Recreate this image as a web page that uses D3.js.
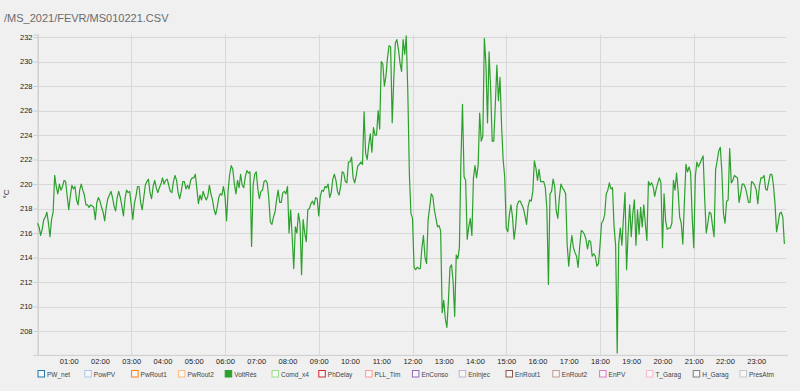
<!DOCTYPE html>
<html><head><meta charset="utf-8">
<script src="https://cdn.jsdelivr.net/npm/d3@7"></script>
<style>
html,body{margin:0;padding:0;background:#f0f0f0;}
svg{display:block;}
text{font-family:"Liberation Sans",Arial,sans-serif;}
</style></head><body>
<svg id="chart" width="800" height="391"></svg>
<script>
// ---------- data ----------
const chartTitle = "/MS_2021/FEVR/MS010221.CSV";
const yUnit = "°C";
const hourLabels = ["01:00","02:00","03:00","04:00","05:00","06:00","07:00","08:00","09:00","10:00","11:00","12:00",
                    "13:00","14:00","15:00","16:00","17:00","18:00","19:00","20:00","21:00","22:00","23:00"];
const yTickValues = [208,210,212,214,216,218,220,222,224,226,228,230,232];
const legendLabels = ["PW_net","PowPV","PwRout1","PwRout2","VoltRés","Comd_x4","PhDelay","PLL_Tim",
                      "EnConso","EnInjec","EnRout1","EnRout2","EnPV","T_Garag","H_Garag","PresAtm"];
const activeSeries = "VoltRés";
const sampleMinutes = 3; // one reading every 3 minutes from 00:00
// VoltRés readings, one row per hour (00h .. 23h)
const voltRes = [
  216.8,216.5,215.8,216.3,217.1,217.3,217.7,216.8,215.7,217.1,217.7,220.7,219.8,219.2,220.0,219.5,219.8,220.3,220.2,219.0,
  217.9,219.0,219.9,219.6,219.8,218.7,218.3,219.5,220.0,219.5,219.1,218.3,218.3,218.1,218.3,218.2,218.1,217.1,218.5,218.9,
  218.6,218.1,217.7,217.0,218.1,218.8,219.1,219.4,218.9,218.2,217.8,218.9,219.4,218.9,218.2,217.4,218.8,219.5,219.3,219.4,
  218.3,217.1,218.4,219.0,219.8,219.8,218.5,217.9,218.9,219.9,220.2,220.4,219.3,218.8,219.8,220.3,219.7,219.3,219.7,220.0,
  220.5,220.0,220.3,220.4,219.9,219.4,219.3,220.2,220.7,220.3,219.3,218.8,219.4,220.2,220.2,219.6,219.9,219.6,220.3,220.5,
  220.5,220.8,219.6,218.4,219.1,218.7,219.4,219.0,218.7,219.0,219.9,219.2,218.7,217.9,217.5,218.1,218.9,219.2,219.1,219.8,
  219.0,217.0,219.5,220.8,221.5,221.2,220.0,219.2,220.3,219.7,220.8,219.9,219.7,220.6,221.1,220.9,221.0,214.9,219.9,220.8,
  221.0,219.6,218.8,219.4,219.5,220.2,220.3,220.1,218.9,216.9,216.7,217.3,217.7,218.7,219.5,218.5,218.5,219.3,219.4,219.2,
  219.8,216.0,217.9,215.7,213.1,216.5,216.0,217.6,216.8,212.6,217.1,216.0,215.3,217.9,218.0,218.4,218.6,218.3,218.9,218.8,
  217.4,219.0,219.5,219.4,219.8,219.7,220.0,218.9,219.3,220.4,220.8,220.3,219.4,219.1,219.8,221.0,220.9,220.2,220.1,221.8,
  221.8,222.2,220.5,220.1,220.7,221.5,221.6,221.8,221.6,225.9,222.5,222.0,223.2,224.1,222.6,224.6,224.0,224.0,226.0,224.5,
  230.0,229.8,228.0,228.8,230.3,231.3,231.2,225.0,228.5,231.5,231.8,231.0,229.9,229.2,231.8,230.6,232.1,227.5,220.8,217.6,
  217.2,213.2,213.0,213.2,213.1,213.1,214.8,215.8,214.0,213.5,217.1,218.1,219.2,219.0,217.9,217.2,216.5,216.6,216.2,209.5,
  210.5,209.0,208.3,210.5,213.2,213.4,212.0,209.2,214.2,213.9,214.8,222.0,226.5,220.6,220.3,215.5,216.5,217.2,215.8,220.5,
  221.5,220.5,221.5,225.8,223.5,223.9,231.9,229.8,225.0,230.8,227.8,223.5,223.5,226.5,229.7,226.8,228.7,224.8,222.0,220.6,
  216.4,216.1,217.5,218.3,217.3,215.5,216.5,218.3,218.6,218.6,218.3,218.0,217.4,216.7,218.2,218.7,218.6,219.4,221.9,221.3,
  220.3,221.2,220.2,220.2,220.2,219.7,218.0,211.8,219.2,219.4,220.4,219.8,217.8,217.2,218.9,220.0,219.7,219.5,219.2,215.0,
  213.3,214.8,215.8,214.8,214.4,214.1,213.2,214.9,216.2,216.1,215.9,215.5,214.7,215.4,215.3,214.1,214.3,214.1,213.3,213.5,
  215.0,216.8,217.0,217.5,219.2,219.5,220.1,219.6,219.7,216.5,215.0,206.2,215.2,216.4,215.0,217.2,219.3,213.0,216.0,218.3,
  215.7,217.6,218.7,215.0,217.9,215.9,218.1,216.5,218.3,216.8,215.4,220.2,219.9,220.1,219.8,219.0,219.6,220.1,220.5,220.1,
  214.8,219.2,217.0,216.3,216.4,216.4,216.8,220.3,219.5,220.9,219.4,217.3,216.8,215.1,218.5,221.6,221.0,221.4,220.9,217.3,
  214.8,220.6,221.8,221.4,221.7,222.0,222.3,218.8,216.0,216.8,217.7,217.6,216.6,215.7,221.2,221.9,222.7,223.0,221.0,217.6,
  216.8,218.6,218.7,222.9,220.1,220.3,220.7,220.6,220.5,218.5,219.2,220.0,220.0,219.7,219.2,218.5,218.5,220.2,220.1,219.9,
  219.5,218.4,219.8,220.5,220.5,220.7,219.6,219.5,220.2,220.8,220.8,219.9,218.4,216.1,216.8,217.6,217.7,217.3,215.1
];

// ---------- styles ----------
const palette = ["#1f77b4","#aec7e8","#ff7f0e","#ffbb78","#2ca02c","#98df8a","#d62728","#ff9896",
                 "#9467bd","#c5b0d5","#8c564b","#c49c94","#e377c2","#f7b6d2","#7f7f7f","#c7c7c7"];

const svg = d3.select("#chart");
const W = 800, H = 391;
svg.append("rect").attr("width", W).attr("height", H).attr("fill", "#f0f0f0");

const x = d3.scaleLinear().domain([0, 24 * 60]).range([37.5, 787.5]);
const y = d3.scaleLinear().domain([206.05, 232.2]).range([354.9, 34.6]);

const data = voltRes.map((v, i) => ({ t: i * sampleMinutes, v }));

// title
svg.append("text").attr("x", 4).attr("y", 21.5).attr("fill", "#6b6b6b")
  .style("font-size", "11px").text(chartTitle);

// grid
const grid = svg.append("g");
grid.selectAll("line.h").data(yTickValues).join("line")
  .attr("x1", x(0)).attr("x2", x(24 * 60) - 1)
  .attr("y1", d => Math.round(y(d)) + 0.5).attr("y2", d => Math.round(y(d)) + 0.5)
  .attr("stroke", "#d8d8d8").attr("stroke-width", 1);
grid.selectAll("line.v").data(d3.range(0, 24 * 60, 180)).join("line")
  .attr("x1", d => Math.round(x(d)) + 0.5).attr("x2", d => Math.round(x(d)) + 0.5)
  .attr("y1", y.range()[1]).attr("y2", y.range()[0])
  .attr("stroke", "#d8d8d8").attr("stroke-width", 1);

// y axis
const yAxis = svg.append("g").attr("transform", `translate(${x(0)},0)`)
  .call(d3.axisLeft(y).tickValues(yTickValues).tickSize(4).tickPadding(1).tickFormat(d3.format("d")));
yAxis.select(".domain").attr("stroke", "#cccccc");
yAxis.selectAll(".tick line").attr("stroke", "#cccccc");
yAxis.selectAll("text").attr("fill", "#222").style("font-size", "7.5px")
  .style("font-family", "'Liberation Sans',Arial,sans-serif");

// x axis
const xAxis = svg.append("g").attr("transform", `translate(0,${y.range()[0]})`)
  .call(d3.axisBottom(x).tickValues(hourLabels.map((_, i) => (i + 1) * 60))
    .tickSize(0).tickPadding(4).tickFormat((d, i) => hourLabels[i]));
xAxis.select(".domain").attr("stroke", "#cccccc");
xAxis.selectAll("text").attr("fill", "#222").style("font-size", "7.5px")
  .style("font-family", "'Liberation Sans',Arial,sans-serif");

// y unit
svg.append("text").attr("transform", "translate(9,194) rotate(-90)")
  .attr("text-anchor", "middle").attr("fill", "#333").style("font-size", "8px").text(yUnit);

// line
svg.append("path").datum(data)
  .attr("fill", "none").attr("stroke", "#2ca02c").attr("stroke-width", 1.2)
  .attr("stroke-linejoin", "round")
  .attr("d", d3.line().x(d => x(d.t)).y(d => y(d.v)));

// legend
const lg = svg.append("g");
const items = lg.selectAll("g").data(legendLabels).join("g")
  .attr("transform", (d, i) => `translate(${38 + i * 46.8},370.5)`);
items.append("rect").attr("width", 6.5).attr("height", 6.5)
  .attr("fill", (d, i) => d === activeSeries ? palette[i] : "#f7f7f7")
  .attr("stroke", (d, i) => palette[i]).attr("stroke-width", 1);
items.append("text").attr("x", 9).attr("y", 6.5).attr("fill", "#444")
  .style("font-size", "6.5px").text(d => d);
</script>
</body></html>
